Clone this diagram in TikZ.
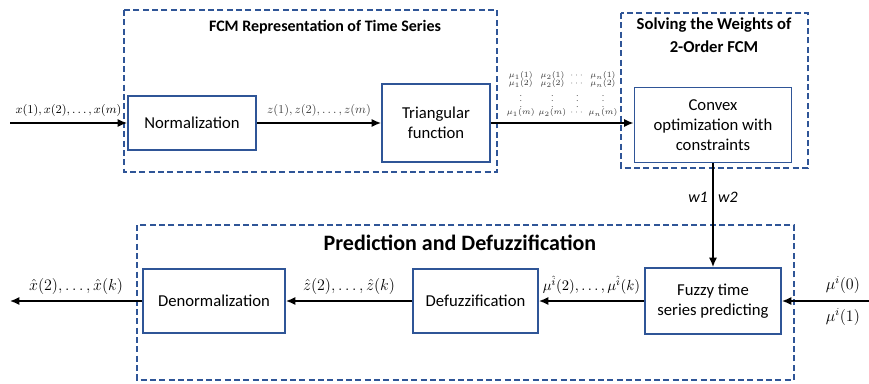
\documentclass[tikz,border=0pt]{standalone}
\usepackage[no-math]{fontspec}
\setmainfont{Carlito}
\usepackage{amsmath}
\usetikzlibrary{positioning, arrows.meta}

\definecolor{boxblue}{RGB}{47,85,151}

\tikzset{
  blockbox/.style={draw=boxblue, line width=1.4pt, fill=white, align=center,
    inner sep=2pt, font=\fontsize{12.5}{15}\selectfont},
  groupbox/.style={draw=boxblue, line width=1.3pt, dash pattern=on 4.5pt off 2.5pt},
  flow/.style={-{Latex[length=7pt, width=6pt]}, line width=1.1pt},
  grouptitle/.style={font=\bfseries\fontsize{12}{14}\selectfont, align=center}
}

\begin{document}
\begin{tikzpicture}[x=0.75pt, y=-0.75pt]
    \useasboundingbox (0,0) rectangle (869,383);

    % Group frames
    \draw[groupbox] (124,10) rectangle (497,172);
    \draw[groupbox] (621,13) rectangle (808,168);
    \draw[groupbox] (137,225) rectangle (794,380);

    % Group titles
    \node[grouptitle] (fcmtitle) at (325,27) {FCM Representation of Time Series};
    \node[grouptitle, font=\bfseries\fontsize{12.5}{17}\selectfont] (solvetitle) at (714,35)
      {Solving the Weights of\\2-Order FCM};
    \node[grouptitle, font=\bfseries\fontsize{16.5}{18}\selectfont] (predtitle) at (460,243)
      {Prediction and Defuzzification};

    % Upper row of blocks
    \node[blockbox, minimum width=96pt, minimum height=40.5pt] (norm) at (192,123) {Normalization};
    \node[blockbox, minimum width=81pt, minimum height=58.5pt] (tri) at (436,123) {Triangular\\function};
    \node[blockbox, minimum width=117.75pt, minimum height=56.25pt] (convex) at (713,125)
      {Convex\\optimization with\\constraints};

    % Lower row of blocks
    \node[blockbox, minimum width=106.5pt, minimum height=48pt] (denorm) at (214,301) {Denormalization};
    \node[blockbox, minimum width=93.75pt, minimum height=48pt] (defuzz) at (475.5,301) {Defuzzification};
    \node[blockbox, minimum width=102pt, minimum height=49.5pt] (fuzzy) at (713,301)
      {Fuzzy time\\series predicting};

    % Free ends
    \coordinate (xin) at (10,123);
    \coordinate (xout) at (10,301);
    \coordinate (muin) at (869,301);

    % Upper connectors
    \draw[flow] (xin) -- (norm)
      node[midway, above=1pt, font=\small] {$x(1), x(2), \ldots, x(m)$};
    \draw[flow] (norm) -- (tri)
      node[midway, above=1pt, font=\small, text=black!75] {$z(1), z(2), \ldots, z(m)$};
    \draw[flow] (tri.east) -- (convex.west |- tri.east)
      node[midway, above=3pt, font=\fontsize{6}{7}\selectfont, inner sep=1pt, text=black!80] {%
        $\renewcommand{\arraystretch}{0.6}\setlength{\arraycolsep}{1.5pt}
        \begin{array}{cccc}
          \mu_1(1) & \mu_2(1) & \cdots & \mu_n(1)\\
          \mu_1(2) & \mu_2(2) & \cdots & \mu_n(2)\\
          \vdots & \vdots & \vdots & \vdots\\
          \mu_1(m) & \mu_2(m) & \cdots & \mu_n(m)
        \end{array}$};

    % Weights down to the predictor
    \draw[flow] (convex) -- (fuzzy)
      node[pos=0.33, left, font=\itshape\fontsize{12}{14}\selectfont] {w1}
      node[pos=0.33, right, font=\itshape\fontsize{12}{14}\selectfont] {w2};

    % Lower connectors
    \draw[flow] (muin) -- (fuzzy)
      node[pos=0.3, above=2pt, font=\fontsize{12}{14}\selectfont] {$\mu^{i}(0)$}
      node[pos=0.3, below=2pt, font=\fontsize{12}{14}\selectfont] {$\mu^{i}(1)$};
    \draw[flow] (fuzzy) -- (defuzz)
      node[midway, above=1pt, font=\fontsize{11}{13}\selectfont] {$\mu^{\hat{i}}(2), \ldots, \mu^{\hat{i}}(k)$};
    \draw[flow] (defuzz) -- (denorm)
      node[midway, above=1pt, font=\fontsize{12}{14}\selectfont] {$\hat{z}(2), \ldots, \hat{z}(k)$};
    \draw[flow] (denorm) -- (xout)
      node[midway, above=1pt, font=\fontsize{12}{14}\selectfont] {$\hat{x}(2), \ldots, \hat{x}(k)$};
\end{tikzpicture}
\end{document}
